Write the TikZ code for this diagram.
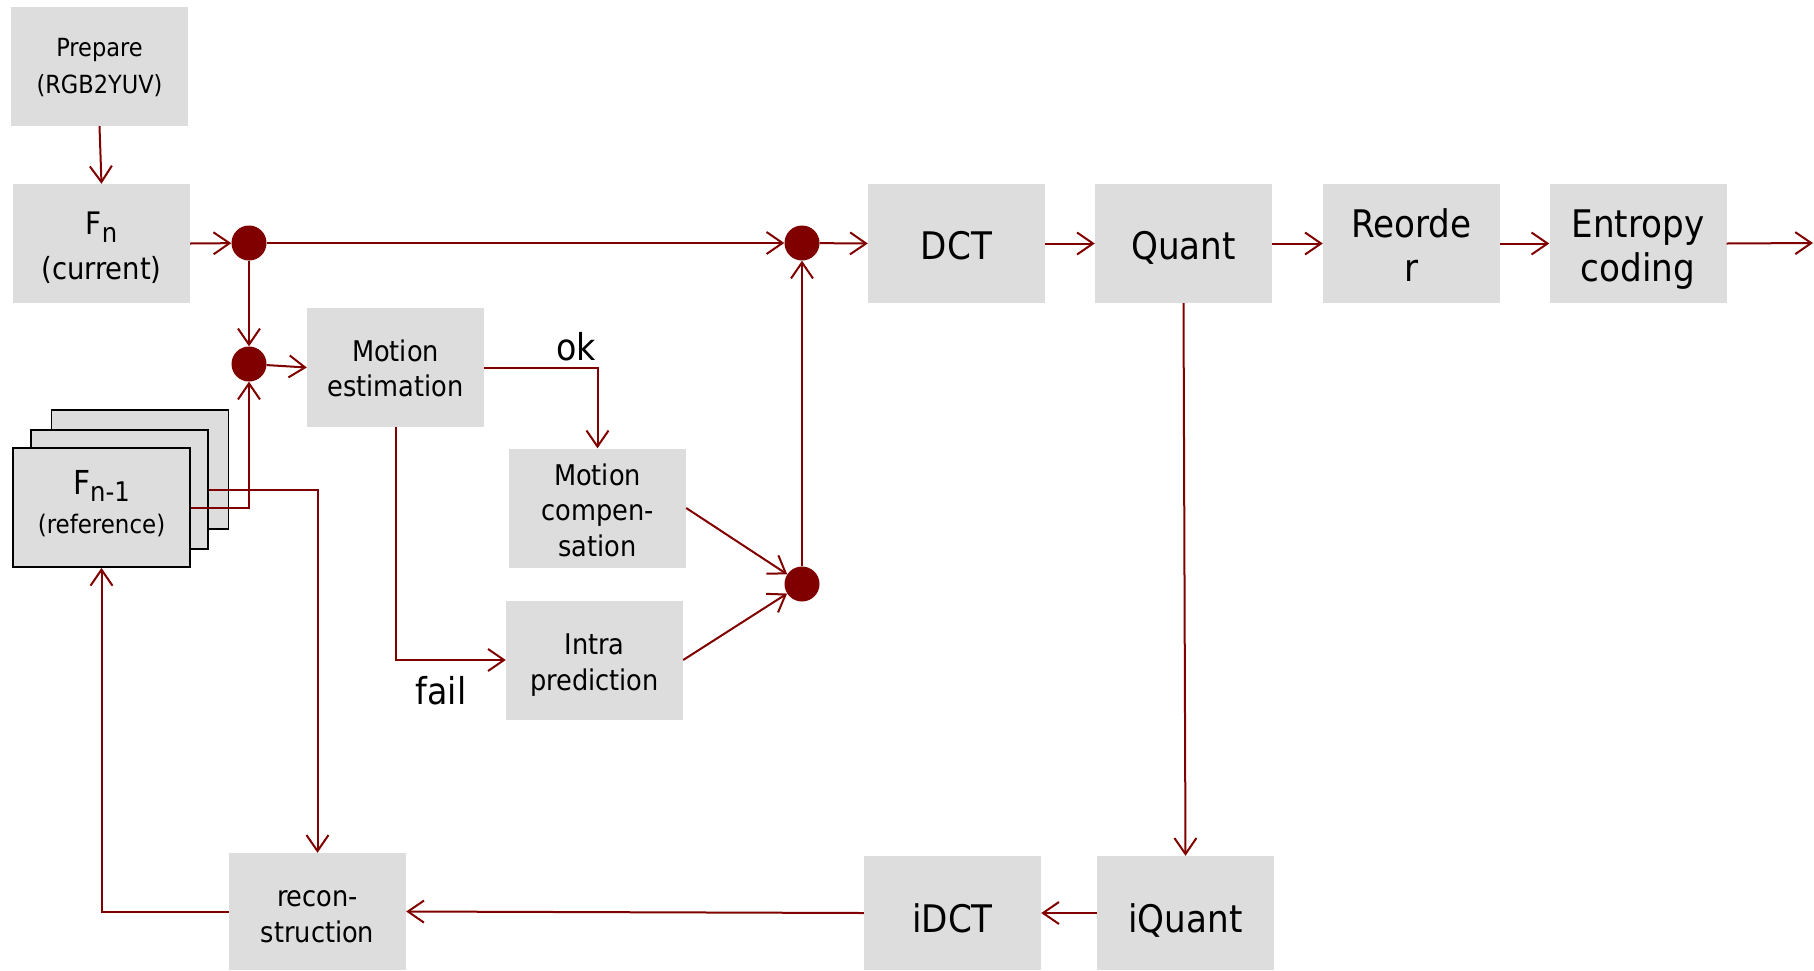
\documentclass[tikz,border=0pt]{standalone}
\usepackage{fontspec}
\setmainfont{DejaVu Sans Condensed}
\usetikzlibrary{arrows.meta}
\definecolor{lc}{RGB}{128,0,0}
\definecolor{bg}{RGB}{221,221,221}
% text block lowered by #1 without changing its reported size
\newcommand\txtblock[2]{\raisebox{-#1}[\height][\depth]{\begin{tabular}{@{}c@{}}#2\end{tabular}}}
\begin{document}
\begin{tikzpicture}[x=1pt,y=-1pt,
  box/.style={fill=bg, minimum width=177pt, minimum height=119pt, inner sep=0pt, align=center},
  small/.style={font=\fontsize{25}{37}\selectfont},
  mid/.style={font=\fontsize{28.5}{35.5}\selectfont},
  big/.style={font=\fontsize{38}{44}\selectfont},
  refbox/.style={box, draw=black, line width=1.8pt},
  dotn/.style={circle, fill=lc, minimum size=35pt, inner sep=0pt},
  conn/.style={draw=lc, line width=2pt, -{Straight Barb[length=16pt,width=22pt,line width=2pt]}},
  lbl/.style={font=\fontsize{37}{40}\selectfont, anchor=base}
]
\useasboundingbox (0,0) rectangle (1814,970);

% boxes
\node[box, small] (prep) at (99.5,66.5) {\txtblock{1.3pt}{Prepare\\(RGB2YUV)}};
\node[box, font=\fontsize{30.5}{45.5}\selectfont] (fn) at (101.5,243.5) {\txtblock{4.4pt}{{\fontsize{31}{36}\selectfont F\raisebox{-8pt}{\fontsize{27}{27}\selectfont n}}\\(current)}};
\node[box, mid] (me) at (395.5,367.5) {\txtblock{4.2pt}{Motion\\estimation}};
\node[refbox] (ref3) at (140,469.5) {};
\node[refbox] (ref2) at (119.5,489.5) {};
\node[refbox, font=\fontsize{25.5}{39}\selectfont] (ref1) at (101.5,507.5) {\txtblock{-1.5pt}{{\fontsize{33}{36}\selectfont F\raisebox{-7.4pt}{\fontsize{27}{27}\selectfont n-1}}\\(reference)}};
\node[box, mid] (mc) at (597.5,508) {\txtblock{5.6pt}{Motion\\compen-\\sation}};
\node[box, mid] (intra) at (594.5,660) {\txtblock{5.5pt}{Intra\\prediction}};
\node[box, big] (dct) at (956.5,243.5) {\txtblock{6.8pt}{DCT}};
\node[box, big] (quant) at (1183.5,243.5) {\txtblock{6.8pt}{Quant}};
\node[box, big] (reorder) at (1411.5,243.5) {\txtblock{7.1pt}{Reorde\\r}};
\node[box, big] (entropy) at (1638,243.5) {\txtblock{6.7pt}{Entropy\\coding}};
\node[box, big, minimum height=114pt] (iquant) at (1185.5,913) {\txtblock{10.7pt}{iQuant}};
\node[box, big, minimum height=114pt] (idct) at (952.5,913) {\txtblock{10.7pt}{iDCT}};
\node[box, mid, minimum height=117pt] (recon) at (317.5,911.5) {\txtblock{5.7pt}{recon-\\struction}};

% junction dots
\node[dotn] (d1) at (249,243) {};
\node[dotn] (d2) at (249,364) {};
\node[dotn] (d3) at (802,584) {};
\node[dotn] (d4) at (802,243) {};
\coordinate (out) at (1813,243);

% labels
\node[lbl] (ok) at (576,360) {ok};
\node[lbl] (fail) at (441,704) {fail};

% connectors
\draw[conn] (prep.south) -- (fn.north);
\draw[conn] (fn.east) -- (d1);
\draw[conn] (d1) -- (d4);
\draw[conn] (d4) -- (dct.west);
\draw[conn] (dct.east) -- (quant.west);
\draw[conn] (quant.east) -- (reorder.west);
\draw[conn] (reorder.east) -- (entropy.west);
\draw[conn] (entropy.east) -- (out);
\draw[conn] (d1) -- (d2);
\draw[conn] (d2) -- (me.west);
\draw[conn] (ref1.east) -| (d2.south);
\draw[conn] (ref2.east) -| (recon.north);
\draw[conn] (me.east) -| (mc.north);
\draw[conn] (me.south) |- (intra.west);
\draw[conn] (mc.east) -- (d3);
\draw[conn] (intra.east) -- (d3);
\draw[conn] (d3) -- (d4);
\draw[conn] (quant.south) -- (iquant.north);
\draw[conn] (iquant.west) -- (idct.east);
\draw[conn] (idct.west) -- (recon.east);
\draw[conn] (recon.west) -| (ref1.south);
\end{tikzpicture}
\end{document}
